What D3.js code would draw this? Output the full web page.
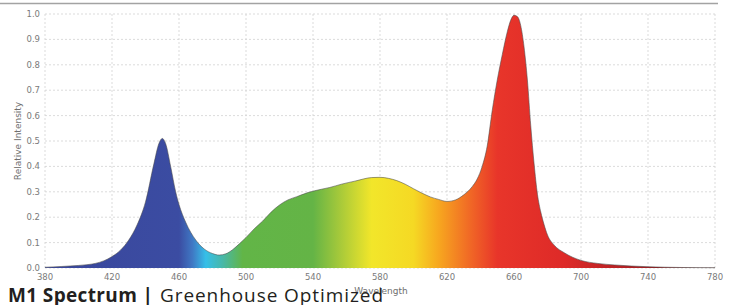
<!DOCTYPE html>
<html lang="en">
<head>
    <meta charset="UTF-8">
    <title>M1 Spectrum</title>
    <script src="https://d3js.org/d3.v7.min.js"></script>
    <style>
        body {
            margin: 0;
            background: #fff;
            overflow: hidden;
        }
        .tick-label {
            font: 8.5px "DejaVu Sans", sans-serif;
            fill: #7a7a7a;
        }
        .grid line {
            stroke: #d2d2d2;
            stroke-width: 0.8px;
            stroke-dasharray: 2,2;
        }
    </style>
</head>
<body>
    <script>
        // spectrum (nm, relative intensity)
        const wavelengths = [380, 390, 400, 405, 410, 415, 420, 425, 430, 435, 440, 445, 448, 450, 452, 455, 458, 460, 464, 470,
            475, 480, 484, 488, 492, 496, 500, 505, 510, 515, 520, 525, 530, 537, 545, 550, 557, 565, 575, 580,
            585, 590, 595, 600, 605, 610, 615, 620, 625, 630, 635, 638, 641, 644, 647, 650, 653, 656, 658, 660,
            662, 664, 666, 668, 670, 672, 674, 676, 678, 680, 684, 690, 700, 710, 720, 740, 760, 780];
        const intensity = [0.003, 0.006, 0.01, 0.013, 0.018, 0.028, 0.045, 0.07, 0.11, 0.17, 0.26, 0.41, 0.49, 0.51, 0.49, 0.40, 0.30, 0.25, 0.18, 0.11,
            0.075, 0.057, 0.051, 0.056, 0.072, 0.095, 0.12, 0.155, 0.185, 0.22, 0.248, 0.268, 0.28, 0.297, 0.31, 0.317, 0.33, 0.342, 0.356, 0.357,
            0.353, 0.344, 0.33, 0.312, 0.295, 0.28, 0.27, 0.262, 0.268, 0.288, 0.32, 0.35, 0.40, 0.48, 0.62, 0.74, 0.84, 0.93, 0.975, 0.995,
            0.99, 0.955, 0.87, 0.74, 0.56, 0.41, 0.29, 0.22, 0.17, 0.13, 0.09, 0.06, 0.03, 0.018, 0.012, 0.005, 0.002, 0.001];

        const xTicks = [380, 420, 460, 500, 540, 580, 620, 660, 700, 740, 780];
        const yTicks = [0, 0.1, 0.2, 0.3, 0.4, 0.5, 0.6, 0.7, 0.8, 0.9, 1.0];

        // fill colour along the wavelength axis
        const stopNm = [380, 460, 468, 476, 486, 498, 540, 556, 575, 600, 615, 635, 650, 690, 730, 780];
        const stopColors = ["#3a479c", "#3b4ca2", "#3f78c4", "#36bfe8", "#48b8a8", "#62b547", "#64b446", "#a6c93a", "#f2e62a", "#f5d924",
            "#f7a71f", "#f06426", "#e8352a", "#de2a28", "#b02024", "#5a1414"];

        const width = 732, height = 305;
        const x = d3.scaleLinear().domain([380, 780]).range([45, 715]);
        const y = d3.scaleLinear().domain([0, 1]).range([268, 14]);

        const svg = d3.select("body").append("svg")
            .attr("width", width)
            .attr("height", height);

        // top rule
        svg.append("line")
            .attr("x1", 0).attr("x2", 718)
            .attr("y1", 3.5).attr("y2", 3.5)
            .attr("stroke", "#a3a3a3")
            .attr("stroke-width", 1.6);

        const grid = svg.append("g").attr("class", "grid");
        grid.selectAll(".gy").data(yTicks).enter().append("line")
            .attr("x1", x(380)).attr("x2", x(780))
            .attr("y1", d => y(d)).attr("y2", d => y(d));
        grid.selectAll(".gx").data(xTicks).enter().append("line")
            .attr("x1", d => x(d)).attr("x2", d => x(d))
            .attr("y1", y(0)).attr("y2", y(1));

        const grad = svg.append("defs").append("linearGradient")
            .attr("id", "spec")
            .attr("gradientUnits", "userSpaceOnUse")
            .attr("x1", x(380)).attr("x2", x(780))
            .attr("y1", 0).attr("y2", 0);
        grad.selectAll("stop").data(stopNm).enter().append("stop")
            .attr("offset", d => (d - 380) / 400)
            .attr("stop-color", (d, i) => stopColors[i]);

        const pts = wavelengths.map((w, i) => [w, intensity[i]]);

        const area = d3.area()
            .x(d => x(d[0]))
            .y0(y(0))
            .y1(d => y(d[1]))
            .curve(d3.curveMonotoneX);
        const line = d3.line()
            .x(d => x(d[0]))
            .y(d => y(d[1]))
            .curve(d3.curveMonotoneX);

        svg.append("path")
            .datum(pts)
            .attr("d", area)
            .attr("fill", "url(#spec)");
        svg.append("path")
            .datum(pts)
            .attr("d", line)
            .attr("fill", "none")
            .attr("stroke", "#4a4a4a")
            .attr("stroke-width", 0.7)
            .attr("stroke-opacity", 0.8);

        // tick labels
        svg.selectAll(".yl").data(yTicks).enter().append("text")
            .attr("class", "tick-label")
            .attr("x", 40)
            .attr("y", d => y(d) + 3)
            .attr("text-anchor", "end")
            .text(d => d.toFixed(1));
        svg.selectAll(".xl").data(xTicks).enter().append("text")
            .attr("class", "tick-label")
            .attr("x", d => x(d))
            .attr("y", 280)
            .attr("text-anchor", "middle")
            .text(d => d);

        svg.append("text")
            .attr("transform", "translate(21,141) rotate(-90)")
            .attr("text-anchor", "middle")
            .style("font", "9px 'DejaVu Sans', sans-serif")
            .style("fill", "#6f6f6f")
            .text("Relative Intensity");

        svg.append("text")
            .attr("x", 381)
            .attr("y", 294)
            .attr("text-anchor", "middle")
            .style("font", "9px 'DejaVu Sans', sans-serif")
            .style("fill", "#6f6f6f")
            .text("Wavelength");

        const title = svg.append("text")
            .attr("x", 8)
            .attr("y", 302)
            .style("font-family", "'Open Sans', sans-serif")
            .style("font-size", "19px")
            .style("fill", "#231f20");
        title.append("tspan")
            .style("font-weight", "bold")
            .attr("textLength", 145)
            .text("M1 Spectrum |");
        title.append("tspan")
            .attr("x", 160)
            .attr("textLength", 223)
            .text("Greenhouse Optimized");
    </script>
</body>
</html>
